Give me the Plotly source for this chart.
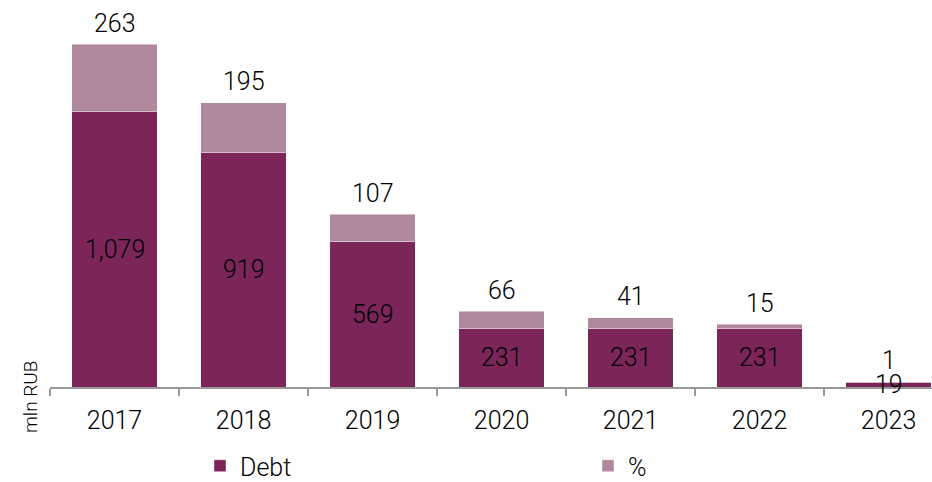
import plotly.graph_objects as go

years = ["2017", "2018", "2019", "2020", "2021", "2022", "2023"]
debt = [1079, 919, 569, 231, 231, 231, 19]
pct = [263, 195, 107, 66, 41, 15, 1]

DEBT_COLOR = "#7B2559"
PCT_COLOR = "#B0889E"
FONT = "Roboto"
W, H = 932, 482
ML, MB = 50, 94.5
PW, PH = W - ML, H - MB

fig = go.Figure()
fig.add_trace(go.Bar(x=years, y=debt, name="Debt", legend="legend",
                     marker=dict(color=DEBT_COLOR, line=dict(color="rgba(255,255,255,0.45)", width=1))))
fig.add_trace(go.Bar(x=years, y=pct, name="%", legend="legend2",
                     marker=dict(color=PCT_COLOR, line=dict(color="rgba(255,255,255,0.45)", width=1))))

lab_font = dict(family=FONT, size=25, color="#000", weight=300)
annotations = []
for i, (d, p) in enumerate(zip(debt, pct)):
    annotations.append(dict(x=i, y=d / 2, text=f"{d:,}", showarrow=False, xref="x", yref="y",
                            font=lab_font, yanchor="middle"))
    annotations.append(dict(x=i, y=d + p, text=f"{p:,}", showarrow=False, xref="x", yref="y",
                            font=lab_font, yanchor="middle", yshift=21))
annotations.append(dict(x=(31 - ML) / PW, y=(PH - 397.5) / PH, xref="paper", yref="paper", text="mln RUB",
                        textangle=-90, showarrow=False, font=dict(family=FONT, size=19, color="#000", weight=300),
                        xanchor="center", yanchor="middle"))

leg_common = dict(orientation="h", yanchor="middle", xanchor="left", xref="container", yref="container",
                  font=dict(family=FONT, size=25, color="#000", weight=300), bgcolor="rgba(0,0,0,0)")

fig.update_layout(
    barmode="stack",
    bargap=0.336,
    width=W, height=H,
    margin=dict(l=ML, r=0, t=0, b=MB, autoexpand=False),
    plot_bgcolor="white", paper_bgcolor="white",
    font=dict(family=FONT, size=25, color="#000", weight=300),
    xaxis=dict(type="category", range=[-0.5, 6.337], showline=True, linecolor="#999", linewidth=1.5,
               ticks="outside", tickson="boundaries", ticklen=7, tickcolor="#999", tickwidth=1.5,
               ticklabelstandoff=10,
               tickfont=dict(family=FONT, size=25, color="#000", weight=300), showgrid=False),
    yaxis=dict(range=[0, 1516], visible=False, showgrid=False),
    legend=dict(x=200 / W, y=1 - 466 / H, **leg_common),
    legend2=dict(x=588 / W, y=1 - 466 / H, **leg_common),
    annotations=annotations,
    showlegend=True,
)

fig.write_html("out.html", config={"displayModeBar": False},
               post_script="document.body.style.margin='0';")
